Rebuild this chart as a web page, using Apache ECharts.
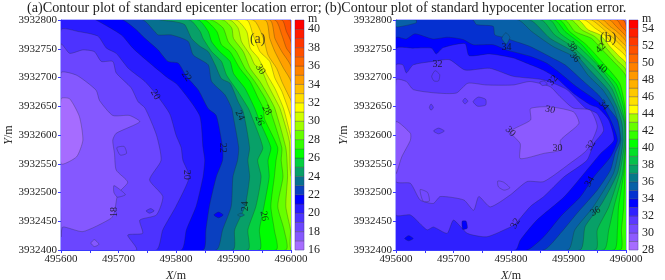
<!DOCTYPE html>
<html><head><meta charset="utf-8">
<style>html,body{margin:0;padding:0;background:#fff}#c{width:665px;height:280px}</style>
<script src="https://cdn.jsdelivr.net/npm/echarts@6/dist/echarts.min.js"></script>
</head><body><div id="c"></div>
<script>
const titleA='(a)Contour plot of standard epicenter location error;';
const titleB='(b)Contour plot of standard hypocenter location error.';
const originX=495600, originY=3932400, span=400;
// Band colours from the colour bars (lowest band first)
const bandStartA=16;
const colorsA=['#a66cff','#8558ff','#6b46ff','#4d33ff','#2a1cff','#0000ff','#0a40c0','#07708f','#08a068','#05d040','#00ff00','#33ff00','#66ff00','#a0ff00','#d0ff00','#ffff00','#ffdf00','#ffc000','#ffa000','#ff8400','#ff6a00','#ff5000','#ff3600','#ff1c00','#ff0000'];
const bandStartB=28;
const colorsB=['#a66cff','#8c5aff','#7349ff','#5a38ff','#2f20ff','#0000ff','#0530d0','#0860a8','#07788a','#08a068','#06c04c','#03e028','#00ff00','#33ff00','#66ff00','#a0ff00','#ffff00','#ffe000','#ffc800','#ffb000','#ff9800','#ff8000','#ff6800','#ff5000','#ff3800','#ff1c00','#ff0000'];
// Contours of panel (a), metres from the lower-left corner
const a17=[[0,263],[15,263],[32,232],[38,191],[27,162],[0,150]];
const a18=[[0,308],[27,304],[61,278],[67,260],[90,234],[119,234],[137,223],[96,203],[90,191],[93,168],[96,139],[116,118],[99,98],[93,66],[87,55],[38,32],[3,40],[0,23]];
const a19=[[0,358],[15,342],[38,348],[58,345],[70,328],[90,328],[96,308],[122,282],[134,258],[146,247],[166,200],[174,156],[154,122],[177,93],[166,61],[137,52],[142,29],[116,26],[131,0]];
const a20=[[0,383],[30,380],[64,372],[79,351],[96,342],[117,316],[146,293],[166,270],[189,237],[200,200],[209,178],[212,156],[223,127],[200,76],[177,35],[166,0]];
const a21=[[61,400],[105,374],[125,351],[151,328],[186,299],[203,287],[241,234],[247,178],[250,156],[247,127],[235,76],[218,35],[209,0]];
const a22=[[108,400],[131,383],[145,369],[169,348],[186,328],[204,325],[218,302],[239,278],[256,246],[270,234],[281,178],[281,156],[270,127],[258,76],[252,35],[247,0]];
const a23=[[143,400],[163,380],[169,374],[192,374],[221,363],[230,339],[256,322],[262,293],[285,270],[297,246],[300,230],[309,178],[307,156],[299,127],[296,76],[281,35],[270,0]];
const a24=[[174,400],[198,397],[215,392],[227,368],[242,354],[256,345],[268,322],[279,298],[294,290],[308,258],[317,240],[328,178],[325,156],[328,127],[320,76],[302,35],[299,0]];
const a25=[[224,400],[242,380],[247,368],[262,345],[279,328],[288,304],[308,275],[326,246],[331,234],[351,178],[342,156],[348,127],[339,76],[325,35],[325,0]];
const a26=[[239,400],[256,380],[262,362],[276,345],[294,328],[300,307],[320,281],[337,246],[345,225],[365,178],[360,156],[362,127],[353,76],[345,35],[345,0]];
const a27=[[250,400],[271,380],[279,357],[294,345],[311,316],[329,293],[343,264],[352,246],[354,228],[377,178],[374,156],[371,127],[365,76],[371,35],[374,0]];
const a28=[[262,400],[282,386],[291,362],[305,345],[320,316],[337,293],[355,264],[363,246],[384,178],[383,156],[386,127],[377,76],[388,35],[391,0]];
const a29=[[282,400],[297,386],[300,368],[317,345],[329,316],[346,293],[363,264],[372,246],[391,178],[393,156],[394,127],[391,76],[399,35],[400,0]];
const a30=[[294,400],[308,386],[314,362],[329,339],[337,322],[348,315],[360,287],[375,258],[381,246],[397,190],[400,130]];
const a31=[[305,400],[323,380],[329,351],[343,334],[358,305],[372,281],[387,246],[400,195]];
const a32=[[323,400],[334,374],[346,345],[363,328],[372,299],[384,276],[395,246],[400,230]];
const a33=[[334,400],[352,368],[360,339],[375,316],[384,293],[398,264],[400,260]];
const a34=[[355,400],[363,368],[372,345],[387,316],[400,293]];
const a35=[[363,400],[372,368],[384,345],[400,319]];
const a36=[[372,400],[384,374],[392,351],[400,339]];
const a37=[[384,400],[392,380],[400,362]];
const a38=[[398,400],[400,385]];
const levelsA=[38,37,36,35,34,33,32,31,30,29,28,27,26,25,24,23,22,21,20,19,18,17];
const linesA=[a38,a37,a36,a35,a34,a33,a32,a31,a30,a29,a28,a27,a26,a25,a24,a23,a22,a21,a20,a19,a18,a17];
const islandBandA=[18,18,19,17,21,23];
const islandRingA=[[[97,178],[110,180],[114,168],[103,165]],[[92,112],[104,104],[112,96],[98,92],[92,100]],[[148,68],[156,72],[162,68],[154,64]],[[52,12],[58,18],[66,10],[58,6]],[[266,61],[274,66],[282,61],[274,56]],[[307,61],[313,64],[319,61],[313,58]]];
const tagsA=[[164,270,20],[218,302,22],[311,234,24],[345,225,26],[358,243,28],[347,314,30],[93,66,18],[219,131,20],[281,178,22],[320,76,24],[353,59,26]];
const tagAnglesA=[-60,-55,-65,-70,-60,-55,90,-90,-90,90,-80];
// Contours of panel (b)
const b30=[[234,246],[268,249],[309,240],[318,220],[286,191],[286,174],[257,168],[216,159],[216,185],[199,206],[234,226]];
const b30b=[[0,223],[25,203],[25,191],[10,162],[0,133]];
const b31=[[0,296],[18,293],[30,279],[70,273],[105,273],[125,290],[157,287],[204,287],[233,293],[268,284],[285,267],[308,247],[338,243],[350,214],[332,174],[303,151],[257,119],[228,119],[199,96],[164,75],[144,93],[135,69],[118,87],[77,93],[65,81],[42,87],[25,116],[0,119]];
const b32=[[0,322],[12,322],[18,308],[30,322],[64,328],[93,331],[120,313],[163,316],[204,302],[256,296],[297,279],[329,247],[350,237],[361,208],[344,185],[332,156],[292,127],[257,93],[234,76],[208,46],[199,40],[158,23],[124,29],[100,52],[89,29],[65,40],[54,35],[25,61],[0,61]];
const b33=[[0,350],[30,351],[62,351],[70,341],[82,352],[120,359],[127,338],[163,341],[204,334],[227,325],[256,313],[279,299],[308,273],[337,253],[352,247],[370,226],[379,191],[356,168],[327,133],[292,92],[245,52],[216,17],[208,0]];
const b34=[[0,369],[18,367],[33,376],[64,367],[90,370],[117,366],[134,357],[169,357],[192,348],[233,337],[262,325],[285,308],[314,284],[343,264],[360,250],[376,220],[385,191],[373,162],[344,127],[321,93],[286,58],[257,23],[228,0]];
const b35=[[134,400],[140,392],[169,389],[172,374],[192,369],[198,366],[233,354],[268,336],[294,322],[323,296],[352,270],[369,248],[385,226],[390,191],[381,168],[373,139],[350,104],[315,64],[286,29],[257,0]];
const b36=[[213,400],[236,380],[273,354],[311,335],[334,304],[360,278],[378,249],[387,220],[391,191],[388,174],[378,133],[343,75],[311,35],[299,0]];
const b37=[[233,400],[268,368],[308,345],[337,313],[369,278],[384,249],[393,220],[395,191],[393,174],[385,133],[358,81],[329,41],[320,0]];
const b38=[[253,400],[276,374],[306,354],[343,319],[375,281],[388,249],[397,222],[398,191],[396,174],[389,133],[370,75],[350,35],[347,0]];
const b39=[[268,400],[285,377],[317,354],[350,322],[379,284],[392,249],[398,222],[399,191],[398,174],[394,133],[379,75],[370,35],[361,0]];
const b40=[[276,400],[294,380],[323,357],[358,316],[384,287],[396,249],[399,225],[400,190],[399,174],[396,133],[387,75],[385,35],[379,0]];
const b41=[[285,400],[302,380],[331,357],[363,322],[389,290],[398,250],[399,220],[399,180],[398,133],[396,75],[392,35],[390,0]];
const b42=[[294,400],[311,380],[340,368],[356,351],[378,328],[400,302]];
const b43=[[305,400],[323,383],[346,371],[363,354],[384,330],[400,313]];
const b44=[[317,400],[334,383],[355,374],[372,354],[389,336],[400,325]];
const b45=[[328,400],[346,386],[363,374],[378,357],[392,345],[400,336]];
const b46=[[340,400],[355,389],[372,374],[387,360],[400,345]];
const b47=[[349,400],[363,389],[378,377],[392,362],[400,354]];
const b48=[[360,400],[372,389],[384,380],[400,362]];
const b49=[[372,400],[381,391],[392,380],[400,371]];
const b50=[[384,400],[392,389],[400,380]];
const b51=[[395,400],[400,391]];
const levelsB=[51,50,49,48,47,46,45,44,43,42,41,40,39,38,37,36,35,34,33,32,31,30,30];
const linesB=[b51,b50,b49,b48,b47,b46,b45,b44,b43,b42,b41,b40,b39,b38,b37,b36,b35,b34,b33,b32,b31,b30,b30b];
const islandBandB=[31,31,31,31,31,35,31,30,30,33,33,35];
const islandRingB=[[[62,302],[68,312],[76,305],[74,294],[66,294]],[[134,258],[143,266],[156,262],[156,252],[142,250]],[[116,259],[120,264],[125,259],[120,254]],[[58,248],[61,254],[65,248],[61,243]],[[65,207],[74,212],[84,207],[74,202]],[[184,368],[191,378],[198,370],[192,358]],[[250,292],[258,294],[263,288],[254,286]],[[177,120],[187,118],[198,108],[188,104],[178,110]],[[42,105],[55,100],[58,85],[47,85]],[[15,20],[22,25],[30,20],[22,16]],[[115,50],[122,50],[124,38],[116,36]],[[0,400],[35,400],[35,395],[0,388]]];
const tagsB=[[192,353,34],[72,322,32],[311,335,36],[306,354,38],[356,351,42],[358,316,40],[273,295,32],[361,252,34],[268,244,30],[199,206,30],[281,177,30],[339,182,32],[337,119,34],[347,67,36],[208,46,32]];
const tagAnglesB=[0,0,-50,-60,45,-40,50,-50,-15,-45,0,60,60,30,60];

const serif='"Liberation Serif","Times New Roman",serif';
const blue='#3a3aff';
function closed(p){
  const f=p[0],l=p[p.length-1],o=p.slice();
  if(l[0]>=span)o.push([span+60,-60]);
  if(l[1]<=0||l[0]>=span)o.push([-60,-60]);
  if(f[1]>=span)o.push([-60,span+60]);
  return o;
}
function fieldSeries(g,levels,lines,colors,start,iBand,iRing){
  const polys=lines.map((p,i)=>({pts:closed(p),fill:colors[levels[i]-1-start]}))
    .concat(iRing.map((p,i)=>({pts:p,fill:colors[iBand[i]-start]})));
  return {type:'custom',xAxisIndex:g,yAxisIndex:g,clip:true,silent:true,z:2,
    data:polys.map((p,i)=>[originX,originY,i]),
    renderItem(params,api){
      const q=polys[params.dataIndex];
      return {type:'polygon',shape:{points:q.pts.map(d=>api.coord([originX+d[0],originY+d[1]])),smooth:0.2},
        style:{fill:q.fill,stroke:'rgba(30,40,30,0.55)',lineWidth:0.5}};
    }};
}
function tagSeries(g,tags,angles,extra){
  return {type:'scatter',xAxisIndex:g,yAxisIndex:g,symbolSize:0,silent:true,z:5,
    data:tags.map((t,i)=>({value:[originX+t[0],originY+t[1]],
      label:{show:true,position:'inside',formatter:String(t[2]),rotate:angles[i],fontFamily:serif,fontSize:10,color:'#111'}}))
     .concat(extra.map(t=>({value:[originX+t[0],originY+t[1]],
      label:{show:true,position:'inside',formatter:t[2],fontFamily:serif,fontSize:14,color:'#222'}})))};
}
function barSeries(g,colors,start){
  return {type:'custom',xAxisIndex:g,yAxisIndex:g,clip:true,silent:true,z:2,
    data:colors.map((c,i)=>[0,start+i]),
    renderItem(params,api){
      const v=api.value(1),a=api.coord([0,v]),b=api.coord([1,v+1]);
      return {type:'rect',shape:{x:a[0],y:b[1],width:b[0]-a[0],height:a[1]-b[1]},
        style:{fill:colors[params.dataIndex],stroke:'rgba(60,50,60,0.6)',lineWidth:0.5}};
    }};
}
const tickFont={fontFamily:serif,fontSize:11,color:'#222'};
const axisLine={show:true,lineStyle:{color:blue,width:1.2}};
const nameRich={i:{fontFamily:serif,fontStyle:'italic',fontSize:12,color:'#222'},n:{fontFamily:serif,fontSize:12,color:'#222'}};
function xAx(gi){return {type:'value',gridIndex:gi,min:originX,max:originX+span,interval:50,
  axisLine,axisTick:{show:true,length:3,lineStyle:{color:blue}},splitLine:{show:false},
  axisLabel:{...tickFont,margin:4,showMinLabel:true,showMaxLabel:true,hideOverlap:false,formatter:v=>v%100===0?String(v):''},
  name:'{i|X}{n|/m}',nameLocation:'middle',nameGap:18,nameTextStyle:{rich:nameRich}};}
function yAx(gi){return {type:'value',gridIndex:gi,min:originY,max:originY+span,interval:50,
  axisLine,axisTick:{show:true,length:3,lineStyle:{color:blue}},splitLine:{show:false},
  axisLabel:{...tickFont,margin:4,hideOverlap:false,formatter:v=>String(v)},
  name:'{i|Y}{n|/m}',nameLocation:'middle',nameGap:37,nameTextStyle:{rich:nameRich}};}
function barX(gi){return {type:'value',gridIndex:gi,min:0,max:1,show:false};}
function barY(gi,min,max){return {type:'value',gridIndex:gi,min,max,interval:2,position:'right',
  axisLine:{show:false},axisTick:{show:false},splitLine:{show:false},
  axisLabel:{fontFamily:serif,fontSize:12,color:'#222',margin:4,showMaxLabel:false}};}
const chart=echarts.init(document.getElementById('c'),null,{renderer:'canvas'});
chart.setOption({
  animation:false,backgroundColor:'#fff',
  title:[{text:titleA,left:27,top:1,padding:0,textStyle:{fontFamily:serif,fontSize:14.2,fontWeight:'normal',color:'#222'}},
         {text:titleB,left:325,top:1,padding:0,textStyle:{fontFamily:serif,fontSize:14,fontWeight:'normal',color:'#222'}}],
  graphic:[{type:'text',left:308,top:13,z:10,style:{text:'m',fontFamily:serif,fontSize:12,fill:'#222'}},
           {type:'text',left:642,top:13,z:10,style:{text:'m',fontFamily:serif,fontSize:12,fill:'#222'}}],
  grid:[
    {left:61,top:20,width:230,height:230,outerBoundsMode:'none',show:true,backgroundColor:colorsA[38-bandStartA],borderColor:'#6a6aff',borderWidth:1},
    {left:396,top:20,width:230,height:230,outerBoundsMode:'none',show:true,backgroundColor:colorsB[51-bandStartB],borderColor:'#6a6aff',borderWidth:1},
    {left:295,top:20,width:9,height:230,outerBoundsMode:'none',show:true,borderColor:'#9a9adf',borderWidth:1},
    {left:629,top:20,width:9,height:230,outerBoundsMode:'none',show:true,borderColor:'#9a9adf',borderWidth:1}],
  xAxis:[xAx(0),xAx(1),barX(2),barX(3)],
  yAxis:[yAx(0),yAx(1),barY(2,16,41),barY(3,28,55)],
  series:[
    fieldSeries(0,levelsA,linesA,colorsA,bandStartA,islandBandA,islandRingA),
    fieldSeries(1,levelsB,linesB,colorsB,bandStartB,islandBandB,islandRingB),
    tagSeries(0,tagsA,tagAnglesA,[[342,366,'(a)']]),
    tagSeries(1,tagsB,tagAnglesB,[[369,368,'(b)']]),
    barSeries(2,colorsA,bandStartA),
    barSeries(3,colorsB,bandStartB)
  ]
});
</script></body></html>
